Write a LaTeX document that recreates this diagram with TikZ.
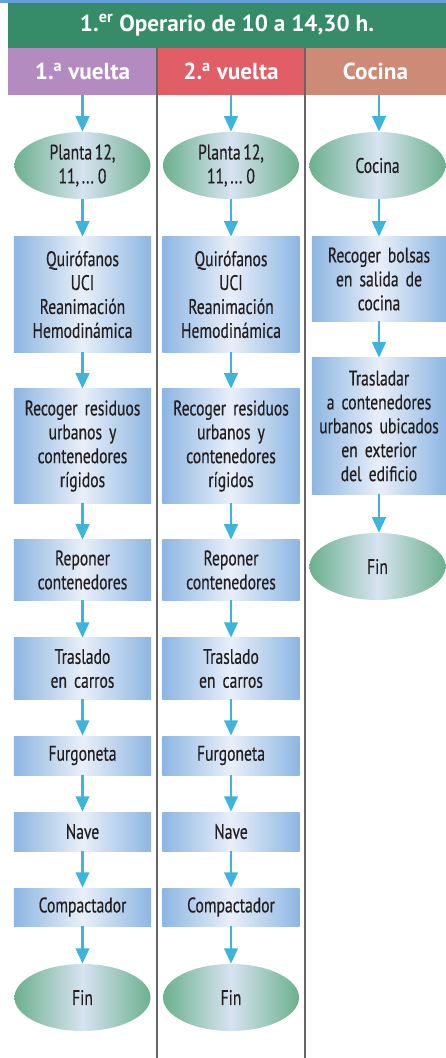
\documentclass[tikz,border=0pt]{standalone}
\usepackage{fontspec}
\setmainfont{PT Sans}
\newfontfamily\estrecha{PT Sans}[FakeStretch=0.74,WordSpace=0.65,FakeBold=0.4]
\usetikzlibrary{shapes.geometric,arrows.meta}
\definecolor{verdecab}{HTML}{368B69}
\definecolor{morado}{HTML}{B48BC0}
\definecolor{rojo}{HTML}{E15E67}
\definecolor{salmon}{HTML}{CC8A77}
\definecolor{azulcaja}{HTML}{8DB6E2}
\definecolor{blancocaja}{HTML}{E9EFF9}
\definecolor{verdeovalo}{HTML}{6CB08E}
\definecolor{blancoovalo}{HTML}{D7E3F1}
\definecolor{flechaazul}{HTML}{3CB4DC}
\definecolor{tinta}{HTML}{231F20}
\definecolor{azultope}{HTML}{64A0DC}

\begin{document}
\begin{tikzpicture}[x=0.025cm,y=-0.025cm,every node/.style={text=tinta},
	cabecera/.style={inner sep=0pt,text=white,font=\bfseries\fontsize{16.5}{19}\selectfont},
	paso/.style={rectangle,inner sep=0pt,minimum width=3.425cm,text width=3.3cm,align=center,
		font=\estrecha\fontsize{15}{17}\selectfont,
		left color=azulcaja,right color=azulcaja,middle color=blancocaja},
	fase/.style={ellipse,inner sep=0pt,minimum width=3.4cm,minimum height=1.675cm,align=center,
		font=\estrecha\fontsize{15}{17}\selectfont,
		left color=verdeovalo,right color=verdeovalo,middle color=blancoovalo},
	flecha/.style={draw=flechaazul,line width=2pt,-{Triangle[width=9.5pt,length=11pt]}}]
	\useasboundingbox (0,0) rectangle (446,1058);
	\fill[azultope] (0,0) rectangle (446,3);

	\node[cabecera,fill=verdecab,minimum width=10.95cm,minimum height=1.125cm] (titulo) at (227,25.5) {1.\textsuperscript{er} Operario de 10 a 14,30 h.};
	\node[cabecera,fill=morado,minimum width=3.725cm,minimum height=1.175cm] (va) at (82.5,71.5) {1.\textsuperscript{a} vuelta};
	\node[cabecera,fill=rojo,minimum width=3.7cm,minimum height=1.175cm] (vb) at (231,71.5) {2.\textsuperscript{a} vuelta};
	\node[cabecera,fill=salmon,minimum width=3.525cm,minimum height=1.175cm] (vc) at (375.5,71.5) {Cocina};

	\draw[gray!80!black,line width=1pt] (157,48)--(157,1058);
	\draw[gray!80!black,line width=1pt] (305,48)--(305,1058);

	\foreach \c/\x in {a/82.5,b/231}{
		\node[fase] (\c1) at (\x,165.5) {Planta 12,\\11, ... 0};
		\node[paso,minimum height=2.875cm] (\c2) at (\x,294.5) {Quirófanos\\UCI\\Reanimación\\Hemodinámica};
		\node[paso,minimum height=2.85cm] (\c3) at (\x,446) {Recoger residuos\\urbanos y\\contenedores\\rígidos};
		\node[paso,minimum height=1.5cm] (\c4) at (\x,570) {Reponer\\contenedores};
		\node[paso,minimum height=1.525cm] (\c5) at (\x,668.5) {Traslado\\en carros};
		\node[paso,minimum height=0.975cm] (\c6) at (\x,755.5) {Furgoneta};
		\node[paso,minimum height=0.975cm] (\c7) at (\x,831.5) {Nave};
		\node[paso,minimum height=0.95cm] (\c8) at (\x,907) {Compactador};
		\node[fase] (\c9) at (\x,997.5) {Fin};
		\draw[flecha] (v\c.south) -- (\c1.north);
		\foreach \i [evaluate=\i as \j using int(\i+1)] in {1,...,8}
			\draw[flecha] (\c\i.south) -- (\c\j.north);
	}

	\node[fase] (c1) at (377.5,165.5) {Cocina};
	\node[paso,minimum width=3.35cm,minimum height=2.1cm] (c2) at (379,279) {Recoger bolsas\\en salida de\\cocina};
	\node[paso,minimum width=3.35cm,minimum height=3.4cm] (c3) at (379,426) {Trasladar\\a contenedores\\urbanos ubicados\\en exterior\\del edificio};
	\node[fase] (c4) at (377.5,566.5) {Fin};
	\draw[flecha] (vc.south -| c2.north) -- (c2.north |- c1.north);
	\draw[flecha] (c1.south -| c2.north) -- (c2.north);
	\draw[flecha] (c2.south) -- (c3.north);
	\draw[flecha] (c3.south) -- (c3.south |- c4.north);
\end{tikzpicture}
\end{document}
